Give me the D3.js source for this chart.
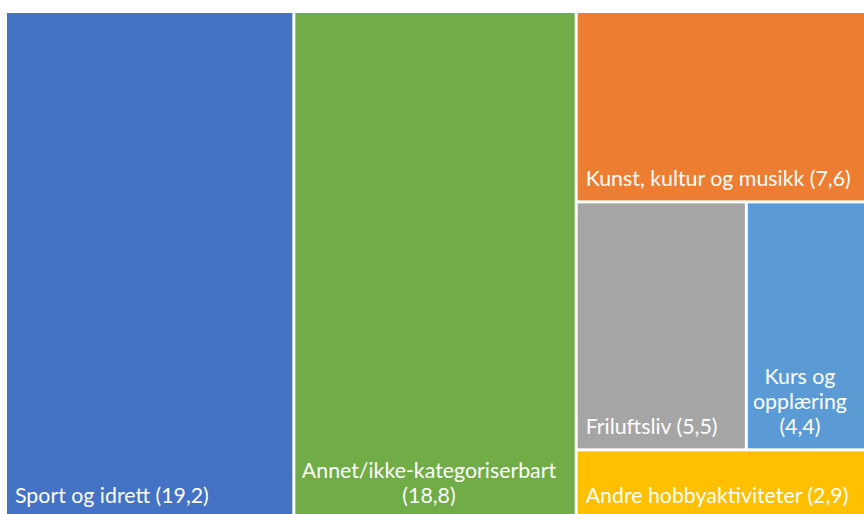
<!DOCTYPE html>
<html>
<head>
<meta charset="utf-8">
<script src="https://cdn.jsdelivr.net/npm/d3@7"></script>
<style>
  body { margin: 0; background: #fff; }
  svg { display: block; }
  .label { fill: #fff; font-family: Lato, "Open Sans", sans-serif; }
</style>
</head>
<body>
<div id="chart"></div>
<script>
const categories = ["Sport og idrett", "Annet/ikke-kategoriserbart", "Kunst, kultur og musikk",
                    "Friluftsliv", "Kurs og opplæring", "Andre hobbyaktiviteter"];
const values = [19.2, 18.8, 7.6, 5.5, 4.4, 2.9];
const colours = ["#4472C4", "#70AD47", "#ED7D31", "#A5A5A5", "#5B9BD5", "#FFC000"];

const W = 864, H = 514;
const margin = {top: 13, left: 7};
const visRight = W, visBottom = 517;

const svg = d3.select("#chart").append("svg")
  .attr("width", W)
  .attr("height", H);

const g = svg.append("g")
  .attr("transform", `translate(${margin.left},${margin.top})`);

// comma as decimal separator
const nb = d3.formatLocale({decimal: ",", thousands: " ", grouping: [3], currency: ["", " kr"]});
const fmt = nb.format(".1f");

// leaves, grouped the way the chart stacks the smaller ones on the right
const leaf = i => ({name: categories[i], value: values[i], colour: colours[i]});
const tree = {children: [
  leaf(0),
  leaf(1),
  {children: [leaf(2), {children: [leaf(3), leaf(4)]}, leaf(5)]}
]};

const root = d3.hierarchy(tree).sum(d => d.value || 0);

d3.treemap()
  .tile(d3.treemapSliceDice)
  .size([874, 508])
  .paddingInner(3)(root);

const leaves = root.leaves();

g.selectAll("rect")
  .data(leaves)
  .join("rect")
    .attr("x", d => d.x0)
    .attr("y", d => d.y0)
    .attr("width", d => d.x1 - d.x0)
    .attr("height", d => d.y1 - d.y0)
    .attr("fill", d => d.data.colour);

// fit font size to the reference text width
const probe = svg.append("text").attr("class", "label").style("font-size", "20px").text("Sport og idrett (19,2)");
const fontSize = 20 * 194 / probe.node().getComputedTextLength();
probe.remove();

const lineH = 25;

leaves.forEach(d => {
  const label = `${d.data.name} (${fmt(d.data.value)})`;
  const x0 = d.x0 + margin.left;
  const x1 = Math.min(d.x1 + margin.left, visRight);
  const y1 = Math.min(d.y1 + margin.top, visBottom);
  const maxW = x1 - x0 - 16;

  const t = svg.append("text").attr("class", "label").style("font-size", fontSize + "px");

  // greedy word wrap
  const words = label.split(" ");
  const lines = [];
  let cur = "";
  words.forEach(w => {
    const test = cur ? cur + " " + w : w;
    t.text(test);
    if (cur && t.node().getComputedTextLength() > maxW) {
      lines.push(cur);
      cur = w;
    } else {
      cur = test;
    }
  });
  lines.push(cur);
  t.text(null);

  const wrapped = lines.length > 1;
  const cx = (x0 + 8 + x1 - 20) / 2;
  lines.forEach((ln, i) => {
    t.append("tspan")
      .attr("x", wrapped ? cx : x0 + 8)
      .attr("y", y1 - 14 - (lines.length - 1 - i) * lineH)
      .attr("text-anchor", wrapped ? "middle" : "start")
      .text(ln);
  });
});
</script>
</body>
</html>
